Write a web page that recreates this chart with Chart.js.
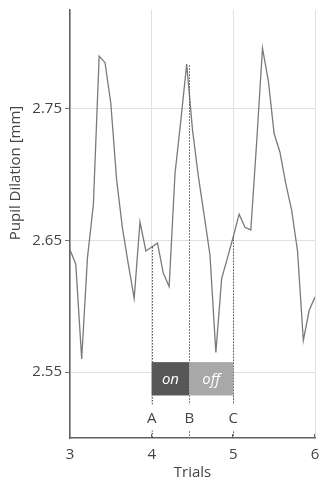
<!DOCTYPE html>
<html lang="en">
<head>
<meta charset="UTF-8">
<title>Pupil Dilation</title>
<script src="https://cdn.jsdelivr.net/npm/chart.js"></script>
<style>
  html, body { margin: 0; padding: 0; background: #fff; }
  #wrap { width: 320px; height: 482px; }
</style>
</head>
<body>
<div id="wrap"><canvas id="grafik"></canvas></div>
<script>
  // trial positions (14 samples per trial) and pupil size
  const trials = [3, 3.071, 3.143, 3.214, 3.286, 3.357, 3.429, 3.5, 3.571, 3.643, 3.714, 3.786, 3.857, 3.929,
                  4, 4.071, 4.143, 4.214, 4.286, 4.357, 4.429, 4.5, 4.571, 4.643, 4.714, 4.786, 4.857, 4.929,
                  5, 5.071, 5.143, 5.214, 5.286, 5.357, 5.429, 5.5, 5.571, 5.643, 5.714, 5.786, 5.857, 5.929, 6];
  const pupil = [2.643, 2.632, 2.560, 2.637, 2.677, 2.790, 2.785, 2.754, 2.696, 2.659, 2.632, 2.606, 2.664, 2.642,
                 2.645, 2.648, 2.625, 2.615, 2.701, 2.741, 2.784, 2.734, 2.699, 2.669, 2.639, 2.565, 2.621, 2.637,
                 2.653, 2.670, 2.660, 2.658, 2.725, 2.796, 2.771, 2.731, 2.717, 2.693, 2.673, 2.642, 2.574, 2.597, 2.607];

  const xTicks = [3, 4, 5, 6];
  const yTicks = [2.55, 2.65, 2.75];

  // markers A, B, C
  const markerLabels = ['A', 'B', 'C'];
  const markerX = [4, 4.46, 5];
  const markerTop = [2.645, 2.783, 2.653];
  const markerLabelY = 2.5156;

  // on / off phases
  const phaseLabels = ['on', 'off'];
  const phaseEdges = [4, 4.46, 5];
  const phaseColors = ['#575757', '#a8a8a8'];
  const phaseTop = 2.5576;
  const phaseBottom = 2.5323;

  const FONT = '"Open Sans", "Noto Sans", sans-serif';

  const annotPlugin = {
    id: 'annot',
    afterDatasetsDraw(chart) {
      const { ctx, chartArea } = chart;
      const x = chart.scales.x, y = chart.scales.y;
      ctx.save();

      // dotted verticals
      ctx.strokeStyle = '#555';
      ctx.lineWidth = 1;
      ctx.setLineDash([1.5, 1.5]);
      markerX.forEach((v, i) => {
        const px = Math.round(x.getPixelForValue(v)) + 0.5;
        ctx.beginPath();
        ctx.moveTo(px, y.getPixelForValue(markerTop[i]));
        ctx.lineTo(px, chartArea.bottom);
        ctx.stroke();
      });
      ctx.setLineDash([]);

      // phase boxes
      const y0 = y.getPixelForValue(phaseTop), y1 = y.getPixelForValue(phaseBottom);
      phaseLabels.forEach((lab, i) => {
        const x0 = x.getPixelForValue(phaseEdges[i]), x1 = x.getPixelForValue(phaseEdges[i + 1]);
        ctx.fillStyle = phaseColors[i];
        ctx.fillRect(x0, y0, x1 - x0, y1 - y0);
        ctx.fillStyle = '#fff';
        ctx.font = 'italic 15px ' + FONT;
        ctx.textAlign = 'center';
        ctx.textBaseline = 'middle';
        ctx.fillText(lab, (x0 + x1) / 2, (y0 + y1) / 2 + 1);
      });

      // marker letters, with gap in dotted line
      const ly = y.getPixelForValue(markerLabelY);
      markerLabels.forEach((lab, i) => {
        const px = x.getPixelForValue(markerX[i]);
        ctx.fillStyle = '#fff';
        ctx.fillRect(px - 8, ly - 13, 16, 26);
        ctx.fillStyle = '#444';
        ctx.font = '15px ' + FONT;
        ctx.textAlign = 'center';
        ctx.textBaseline = 'middle';
        ctx.fillText(lab, px, ly + 1);
      });

      // small inner ticks on x axis
      ctx.strokeStyle = '#666';
      ctx.lineWidth = 1;
      xTicks.slice(1).forEach(v => {
        const px = Math.round(x.getPixelForValue(v)) - 0.5;
        ctx.beginPath();
        ctx.moveTo(px, chartArea.bottom - 4);
        ctx.lineTo(px, chartArea.bottom);
        ctx.stroke();
      });

      // y axis title
      ctx.translate(16, 173);
      ctx.rotate(-Math.PI / 2);
      ctx.fillStyle = '#444';
      ctx.font = '15px ' + FONT;
      ctx.textAlign = 'center';
      ctx.textBaseline = 'middle';
      ctx.fillText('Pupil Dilation [mm]', 0, 0);
      ctx.restore();
    }
  };

  new Chart(document.getElementById('grafik'), {
    type: 'line',
    data: {
      datasets: [{
        data: trials.map((t, i) => ({ x: t, y: pupil[i] })),
        borderColor: '#7a7a7a',
        borderWidth: 1.3,
        pointRadius: 0,
        tension: 0,
        fill: false
      }]
    },
    options: {
      responsive: true,
      maintainAspectRatio: false,
      animation: false,
      events: [],
      layout: { padding: { top: 10, right: 5, left: 0, bottom: 0 } },
      plugins: { legend: { display: false }, tooltip: { enabled: false } },
      scales: {
        x: {
          type: 'linear', min: 3, max: 6,
          afterBuildTicks: s => { s.ticks = xTicks.map(v => ({ value: v })); },
          afterFit: s => { s.height = 44; s.paddingLeft = 0; s.paddingRight = 0; },
          grid: { color: '#e0e0e0', drawTicks: false },
          border: { color: '#606060', width: 1.5 },
          ticks: { color: '#444', font: { size: 15, family: FONT }, padding: 8 },
          title: { display: true, text: 'Trials', color: '#444', font: { size: 15, family: FONT }, padding: 0 }
        },
        y: {
          min: 2.5, max: 2.825,
          afterBuildTicks: s => { s.ticks = yTicks.map(v => ({ value: v })); },
          afterFit: s => { s.width = 70; s.paddingTop = 0; s.paddingBottom = 0; },
          grid: { color: '#e0e0e0', tickColor: '#777', tickLength: 5 },
          border: { color: '#606060', width: 1.5 },
          ticks: { color: '#444', font: { size: 15, family: FONT }, padding: 3, callback: v => v.toFixed(2) }
        }
      }
    },
    plugins: [annotPlugin]
  });
</script>
</body>
</html>
